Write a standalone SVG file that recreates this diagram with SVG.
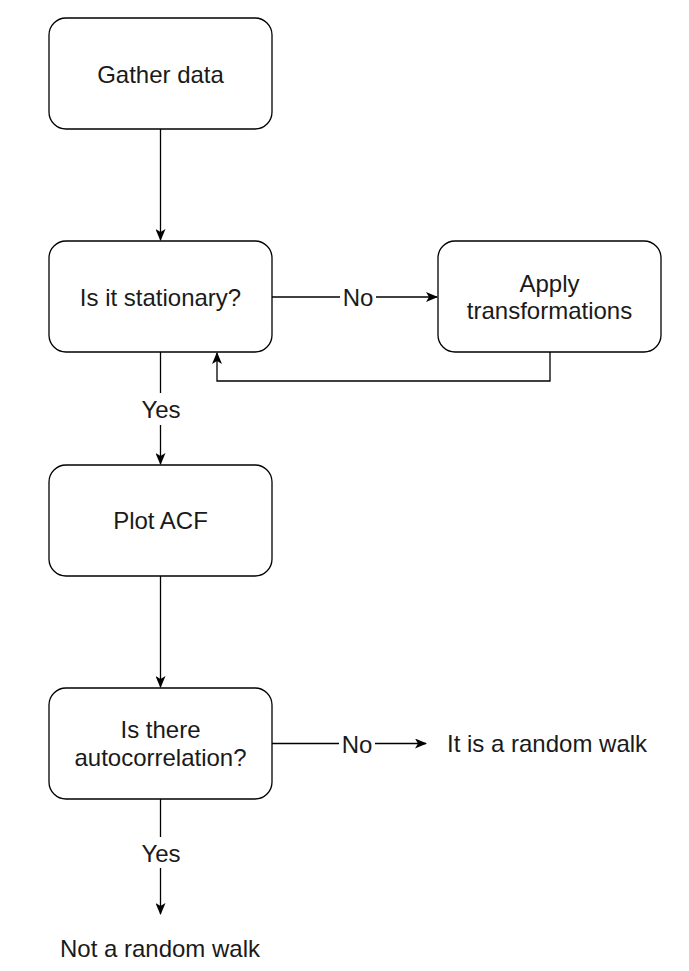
<svg xmlns="http://www.w3.org/2000/svg" width="689" height="971" viewBox="0 0 689 971">
  <style>
    .box { fill: #ffffff; stroke: #000000; stroke-width: 1.3; }
    .t { font-family: "Liberation Sans", Arial, Helvetica, sans-serif; font-size: 24px; fill: #1a1a1a; text-anchor: middle; }
    .ts { font-family: "Liberation Sans", Arial, Helvetica, sans-serif; font-size: 24px; fill: #1a1a1a; }
    .edge { fill: none; stroke: #000000; stroke-width: 1.3; }
    .lbl { fill: #ffffff; stroke: none; }
  </style>
  <defs>
    <marker id="arr" viewBox="0 0 12 10" refX="11" refY="5" markerWidth="12" markerHeight="10" markerUnits="userSpaceOnUse" orient="auto">
      <path d="M0,0 L12,5 L0,10 L3,5 Z" fill="#000000"/>
    </marker>
  </defs>
  <rect width="689" height="971" fill="#ffffff"/>

  <g id="connectors">
    <path class="edge" d="M160.5,129 L160.5,240" marker-end="url(#arr)"/>
    <path class="edge" d="M272,297 L437,297" marker-end="url(#arr)"/>
    <path class="edge" d="M550,352 L550,381 L217,381 L217,353" marker-end="url(#arr)"/>
    <path class="edge" d="M160.5,352 L160.5,464" marker-end="url(#arr)"/>
    <path class="edge" d="M160.5,576 L160.5,687" marker-end="url(#arr)"/>
    <path class="edge" d="M272,743.5 L426,743.5" marker-end="url(#arr)"/>
    <path class="edge" d="M160.5,799 L160.5,914" marker-end="url(#arr)"/>
    <rect class="lbl" x="340" y="286" width="36" height="24"/>
    <text class="t" x="358" y="306">No</text>
    <rect class="lbl" x="142" y="393" width="38" height="32"/>
    <text class="t" x="161" y="418">Yes</text>
    <rect class="lbl" x="339" y="732" width="36" height="24"/>
    <text class="t" x="357" y="753">No</text>
    <rect class="lbl" x="142" y="837" width="38" height="31"/>
    <text class="t" x="161" y="862">Yes</text>
  </g>

  <g id="gather">
    <rect class="box" x="49" y="18" width="223" height="111" rx="17" ry="17"/>
    <text class="t" x="160.5" y="83">Gather data</text>
  </g>
  <g id="stationary">
    <rect class="box" x="49" y="241" width="223" height="111" rx="17" ry="17"/>
    <text class="t" x="160.5" y="306">Is it stationary?</text>
  </g>
  <g id="transform">
    <rect class="box" x="438" y="241" width="223" height="111" rx="17" ry="17"/>
    <text class="t" x="549.5" y="292">Apply</text>
    <text class="t" x="549.5" y="319">transformations</text>
  </g>
  <g id="acf">
    <rect class="box" x="49" y="465" width="223" height="111" rx="17" ry="17"/>
    <text class="t" x="160.5" y="529">Plot ACF</text>
  </g>
  <g id="autocorr">
    <rect class="box" x="49" y="688" width="223" height="111" rx="17" ry="17"/>
    <text class="t" x="160.5" y="738">Is there</text>
    <text class="t" x="160.5" y="766">autocorrelation?</text>
  </g>
  <g id="random-walk">
    <text class="ts" x="447" y="752">It is a random walk</text>
  </g>
  <g id="not-random-walk">
    <text class="t" x="160" y="957">Not a random walk</text>
  </g>
</svg>
